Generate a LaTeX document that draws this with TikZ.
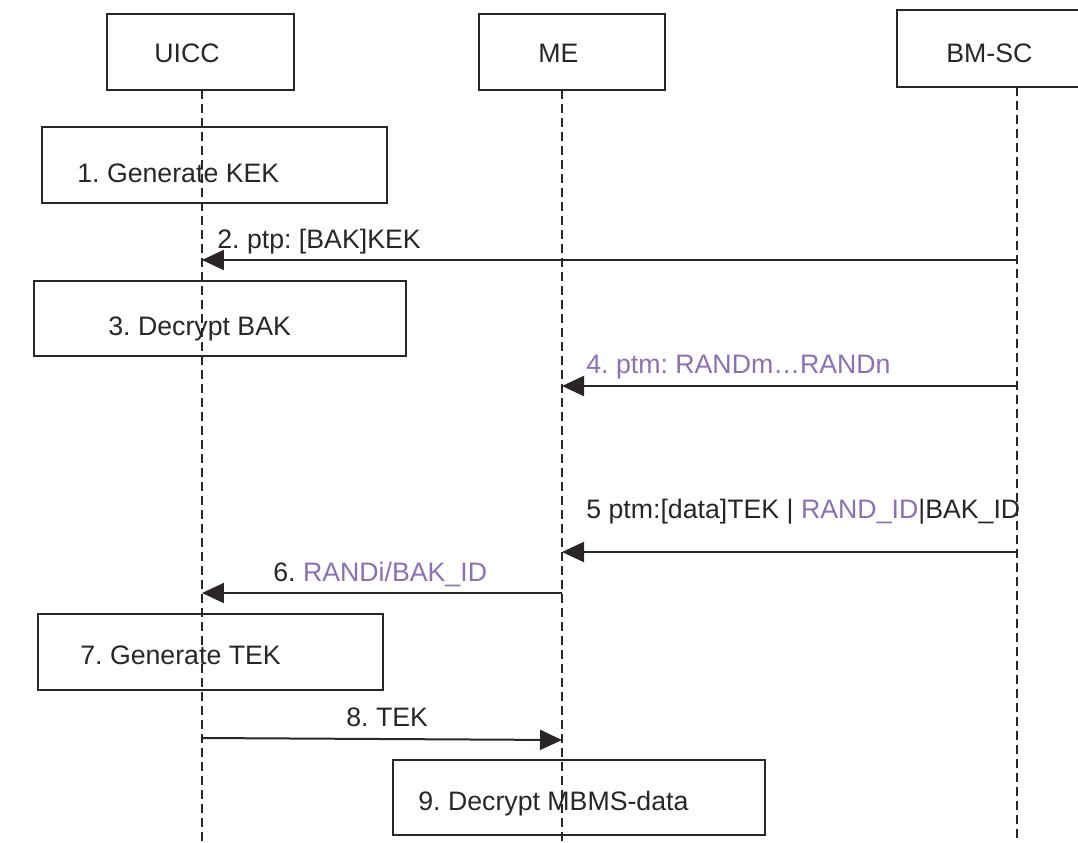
\documentclass[tikz,border=0pt]{standalone}
\usepackage{fontspec}
\setmainfont{Liberation Sans}
\usetikzlibrary{arrows.meta}
\definecolor{randpurple}{RGB}{140,112,180}
\definecolor{inkline}{RGB}{42,37,38}
\frenchspacing

\begin{document}
\begin{tikzpicture}[x=0.02cm, y=-0.02cm,
		txt/.style={anchor=base west, inner sep=0pt, text=inkline, font=\fontsize{15.2}{17}\selectfont},
		box/.style={draw=inkline, line width=0.4mm},
		lifeline/.style={draw=inkline, line width=0.26mm, dash pattern=on 0.18cm off 0.1cm},
		msg/.style={draw=inkline, line width=0.4mm, -{Triangle[length=0.44cm,width=0.4cm]}}]
		%%%%% START %%%%%
		
		\useasboundingbox (0, 0) rectangle (1078, 842);
		\clip (0, 0) rectangle (1078, 842);
		
		% entities
		\draw[box] (107, 14) rectangle (294, 90);
		\node[txt] (uicc) at (154, 62) {UICC};
		\draw[box] (479, 14) rectangle (665, 90);
		\node[txt] (me) at (538, 62) {ME};
		\draw[box] (897, 10) rectangle (1090, 87);
		\node[txt] (bmsc) at (946, 62) {BM-SC};
		
		% lifelines
		\coordinate (uiccTop) at (202, 90);
		\coordinate (uiccEnd) at (202, 842);
		\coordinate (meTop) at (562, 90);
		\coordinate (meEnd) at (562, 842);
		\coordinate (bmscTop) at (1017, 87);
		\coordinate (bmscEnd) at (1017, 842);
		\draw[lifeline] (uiccTop) -- (uiccEnd);
		\draw[lifeline] (meTop) -- (meEnd);
		\draw[lifeline] (bmscTop) -- (bmscEnd);
		
		% 1
		\draw[box] (42, 127) rectangle (387, 203);
		\node[txt] (genkek) at (77, 182) {1. Generate KEK};
		
		% 2
		\coordinate (bmsc2) at (1017, 260);
		\coordinate (uicc2) at (202, 260);
		\draw[msg] (bmsc2) -- (uicc2);
		\node[txt] (ptpbak) at (217, 248) {2. ptp: [BAK]KEK};
		
		% 3
		\draw[box] (34, 281) rectangle (406, 356);
		\node[txt] (decbak) at (108, 335) {3. Decrypt BAK};
		
		% 4
		\coordinate (bmsc4) at (1017, 386);
		\coordinate (me4) at (562, 386);
		\draw[msg] (bmsc4) -- (me4);
		\node[txt] (ptmrand) at (586, 373) {\textcolor{randpurple}{4. ptm: RANDm…RANDn}};
		
		% 5
		\coordinate (bmsc5) at (1017, 552);
		\coordinate (me5) at (562, 552);
		\draw[msg] (bmsc5) -- (me5);
		\node[txt] (ptmdata) at (586, 518) {5 ptm:[data]TEK | \textcolor{randpurple}{RAND\_ID}|BAK\_ID};
		
		% 6
		\coordinate (me6) at (562, 593);
		\coordinate (uicc6) at (202, 593);
		\draw[msg] (me6) -- (uicc6);
		\node[txt] (randi) at (273, 581) {6. \textcolor{randpurple}{RANDi/BAK\_ID}};
		
		% 7
		\draw[box] (38, 614) rectangle (383, 690);
		\node[txt] (gentek) at (80, 664) {7. Generate TEK};
		
		% 8
		\coordinate (uicc8) at (202, 738);
		\coordinate (me8) at (562, 740);
		\draw[msg] (uicc8) -- (me8);
		\node[txt] (tek) at (346, 726) {8. TEK};
		
		% 9
		\draw[box] (393, 760) rectangle (765, 835);
		\node[txt] (decmbms) at (418, 810) {9. Decrypt MBMS-data};
		
		%%%%% END %%%%%
	\end{tikzpicture}
\end{document}
